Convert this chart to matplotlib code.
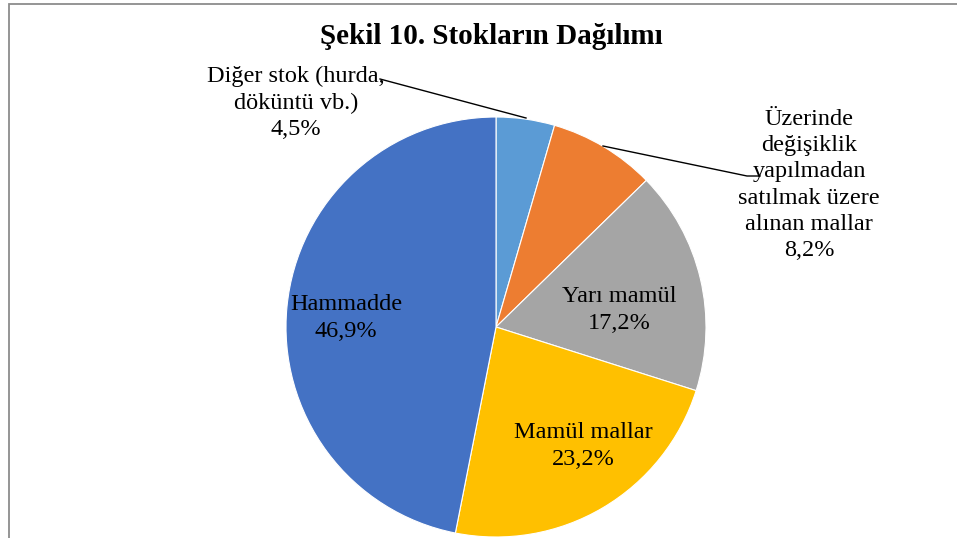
import matplotlib.pyplot as plt
from matplotlib.patches import Rectangle

# data, clockwise from 12 o'clock
labels = ['Diğer stok (hurda,\ndöküntü vb.)', 'Üzerinde\ndeğişiklik\nyapılmadan\nsatılmak üzere\nalınan mallar',
          'Yarı mamül', 'Mamül mallar', 'Hammadde']
shares = [4.5, 8.2, 17.2, 23.2, 46.9]
colors = ['#5B9BD5', '#ED7D31', '#A5A5A5', '#FFC000', '#4472C4']

W, H = 957, 538
plt.rcParams['font.family'] = ['Liberation Serif', 'DejaVu Serif']

fig = plt.figure(figsize=(W / 100, H / 100), dpi=100, facecolor='white')
ax = fig.add_axes([0, 0, 1, 1])

# chart frame (cropped on right and bottom in the original)
fig.patches.append(Rectangle((9 / W, -0.1), 1.2, (H - 4) / H + 0.1, transform=fig.transFigure,
                             fill=False, edgecolor='#8c8c8c', linewidth=1.3))

cx, cy, r = 496, H - 327, 210
ax.pie(shares, colors=colors, startangle=90, counterclock=False, center=(cx, cy), radius=r,
       wedgeprops=dict(edgecolor='white', linewidth=0.8), frame=True)
ax.set_xlim(0, W)
ax.set_ylim(0, H)
ax.set_aspect('equal')
ax.axis('off')

def pct(v):
    return ('%.1f%%' % v).replace('.', ',')

fs = 17.5
# label text centres in pixel coordinates
pos = [(296, 103), (809, 185), (619, 310), (583, 446), (346, 318)]
for lab, v, (x, y) in zip(labels, shares, pos):
    ax.text(x, H - y, lab + '\n' + pct(v), ha='center', va='center', fontsize=fs, linespacing=1.33)

# leader lines
ax.plot([380, 526], [H - 79, H - 118], color='black', lw=1)
ax.plot([603, 747, 760], [H - 146, H - 176, H - 176], color='black', lw=1)

ax.text(491, H - 36, 'Şekil 10. Stokların Dağılımı', ha='center', va='center',
        fontsize=21, fontweight='bold')

fig.savefig('out.png', dpi=100)
